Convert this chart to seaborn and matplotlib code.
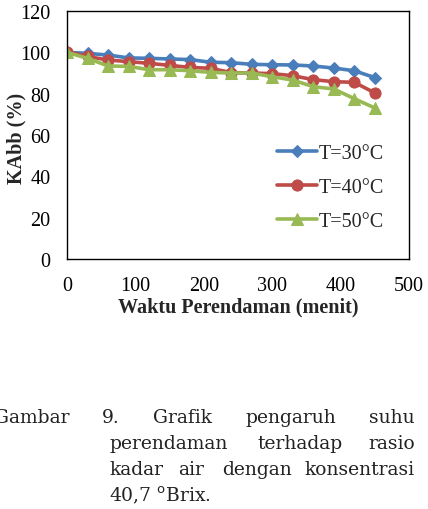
import numpy as np
import pandas as pd
import seaborn as sns
from matplotlib import pyplot as plt

# data
waktu = [0, 30, 60, 90, 120, 150, 180, 210, 240, 270, 300, 330, 360, 390, 420, 450]
kabb_30 = [100, 99.5, 98.7, 97.3, 97.1, 96.8, 96.5, 95.2, 95.0, 94.2, 94.0, 93.9, 93.4, 92.4, 91.1, 87.8]
kabb_40 = [100.3, 98.0, 96.3, 95.5, 94.7, 93.7, 92.7, 92.3, 90.2, 90.0, 89.7, 88.7, 86.8, 85.8, 85.5, 80.4]
kabb_50 = [100, 97.1, 93.4, 93.2, 91.6, 91.6, 91.1, 90.3, 90.0, 90.0, 88.2, 86.6, 83.4, 82.3, 77.6, 73.1]
labels = ['T=30°C', 'T=40°C', 'T=50°C']
colors = ['#4a7ebb', '#be4b48', '#98b954']
markers = ['D', 'o', '^']

x_ticks = [0, 100, 200, 300, 400, 500]
y_ticks = [0, 20, 40, 60, 80, 100, 120]

df = pd.DataFrame({
    'Waktu': waktu * 3,
    'KAbb': kabb_30 + kabb_40 + kabb_50,
    'Suhu': [labels[0]] * len(waktu) + [labels[1]] * len(waktu) + [labels[2]] * len(waktu),
})

sns.set_style('white')
plt.rcParams['font.family'] = ['Liberation Serif', 'DejaVu Serif']

fig = plt.figure(figsize=(4.28, 5.10), dpi=100)
ax = fig.add_axes([0.1565, 0.490, 0.799, 0.4865])

ms = {'T=30°C': 6, 'T=40°C': 8, 'T=50°C': 8}
for lab, c, m in zip(labels, colors, markers):
    sub = df[df['Suhu'] == lab]
    sns.lineplot(data=sub, x='Waktu', y='KAbb', ax=ax, color=c, marker=m,
                 markersize=ms[lab], markeredgecolor=c, linewidth=2.6, label=lab)

ax.set_xlim(0, 500)
ax.set_ylim(0, 120)
ax.set_xticks(x_ticks)
ax.set_yticks(y_ticks)
ax.tick_params(axis='both', length=0, labelsize=14.5, colors='black')
ax.tick_params(axis='x', pad=12)
ax.tick_params(axis='y', pad=12)
for s in ax.spines.values():
    s.set_color('black')
    s.set_linewidth(1.0)
    s.set_visible(True)

ax.set_xlabel('Waktu Perendaman (menit)', fontsize=14.5, fontweight='bold', labelpad=1)
ax.set_ylabel('KAbb (%)', fontsize=14.5, fontweight='bold')
ax.yaxis.set_label_coords(-0.118, 0.49)

leg = ax.legend(loc='lower right', bbox_to_anchor=(0.95, 0.08), frameon=False,
                fontsize=14.5, handlelength=2.0, handletextpad=0.05, labelspacing=0.75,
                borderaxespad=0)

# caption below the chart
cap_font = dict(fontsize=13.5, family=['DejaVu Serif'], color='#222222', va='baseline')
H = 510.0
W = 428.0
def put(word, xpx, ypx, ha='left'):
    fig.text(xpx / W, 1 - ypx / H, word, ha=ha, **cap_font)

put('Gambar', -6, 423)
put('9.', 102, 423)
put('Grafik', 153, 423)
put('pengaruh', 246, 423)
put('suhu', 415, 423, ha='right')
put('perendaman', 109, 449)
put('terhadap', 257, 449)
put('rasio', 415, 449, ha='right')
put('kadar', 109, 475)
put('air', 178, 475)
put('dengan', 222, 475)
put('konsentrasi', 415, 475, ha='right')
put('40,7 $^{\\mathrm{o}}$Brix.', 109, 501)

fig.savefig('out.png', dpi=100)
